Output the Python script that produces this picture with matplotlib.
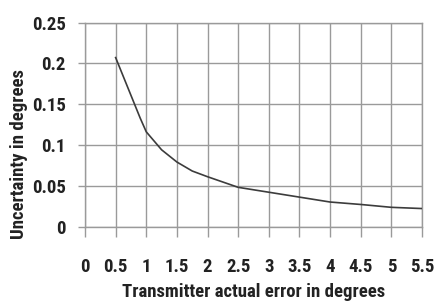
import matplotlib
matplotlib.use("Agg")
import matplotlib.pyplot as plt
import numpy as np

# values
err_deg = [0.5, 0.9, 1.0, 1.25, 1.5, 1.75, 2.0, 2.5, 3.0, 3.5, 4.0, 4.5, 5.0, 5.5]
uncert_deg = [0.207, 0.133, 0.116, 0.094, 0.079, 0.068, 0.061, 0.048, 0.042, 0.036, 0.030, 0.027, 0.0235, 0.022]

xticks = [0, 0.5, 1, 1.5, 2, 2.5, 3, 3.5, 4, 4.5, 5, 5.5]
xtick_labels = ["0", "0.5", "1", "1.5", "2", "2.5", "3", "3.5", "4", "4.5", "5", "5.5"]
yticks = [0, 0.05, 0.1, 0.15, 0.2, 0.25]
ytick_labels = ["0", "0.05", "0.1", "0.15", "0.2", "0.25"]

plt.rcParams.update({
    "font.family": ["Roboto Condensed", "Archivo Narrow", "DejaVu Sans"],
    "font.weight": "bold",
    "font.size": 12,
})

GRID = "#9a9a9a"
TXT = "#222222"

fig = plt.figure(figsize=(4.34, 3.02), dpi=100)
ax = fig.add_axes([85/434., 1-226.5/302., (422-85)/434., (226.5-22.5)/302.])

ax.plot(err_deg, uncert_deg, color="#3c3c3c", lw=1.2, zorder=3)

ax.set_xlim(0, 5.5)
ax.set_ylim(0, 0.25)
ax.set_xticks(xticks)
ax.set_xticklabels(xtick_labels)
ax.set_yticks(yticks)
ax.set_yticklabels(ytick_labels)

ax.grid(True, color=GRID, lw=1.0)
for s in ax.spines.values():
    s.set_color(GRID)
    s.set_linewidth(1.0)

ax.tick_params(axis="x", direction="out", length=7, width=1.0, color=GRID, pad=16, labelsize=13.5, labelcolor=TXT)
ax.tick_params(axis="y", direction="out", length=5, width=1.0, color=GRID, pad=9, labelsize=13.5, labelcolor=TXT)

ax.set_xlabel("Transmitter actual error in degrees", fontsize=13.5, fontweight="bold", color=TXT)
ax.xaxis.set_label_coords(0.5, -0.275)
ax.set_ylabel("Uncertainty in degrees", fontsize=13.5, fontweight="bold", color=TXT)
ax.yaxis.set_label_coords(-0.17, 0.355)

fig.savefig("out.png", dpi=100)
